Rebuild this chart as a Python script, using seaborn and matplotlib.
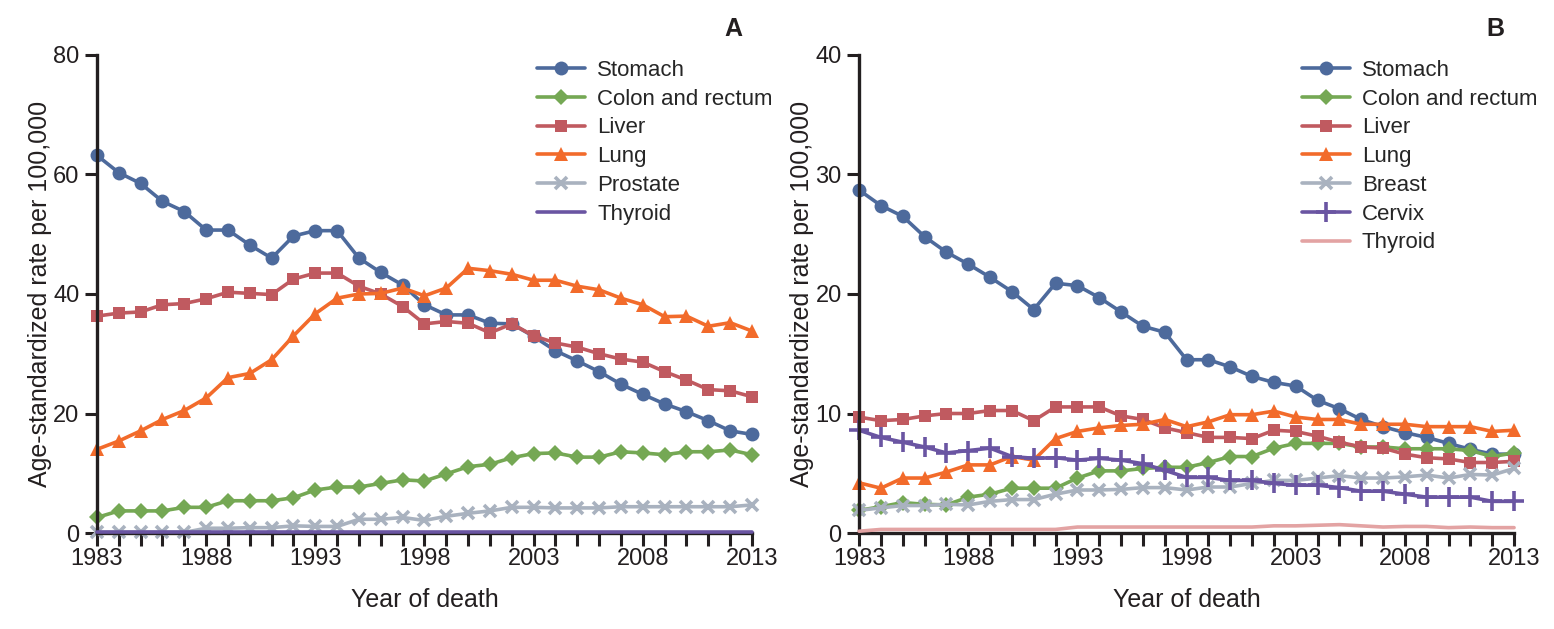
import pandas as pd
import matplotlib.pyplot as plt
import seaborn as sns

years = list(range(1983, 2014))

# Panel A (men)
stomach_a = [63.2, 60.3, 58.5, 55.5, 53.8, 50.7, 50.7, 48.2, 46.0, 49.7, 50.6, 50.6, 46.0, 43.6, 41.5,
             38.2, 36.5, 36.5, 35.1, 35.0, 32.9, 30.5, 28.8, 27.0, 24.9, 23.2, 21.6, 20.3, 18.8, 17.1, 16.5]
colon_a = [2.6, 3.7, 3.7, 3.7, 4.3, 4.3, 5.4, 5.4, 5.4, 5.9, 7.2, 7.7, 7.7, 8.3, 8.9,
           8.7, 9.9, 11.1, 11.5, 12.6, 13.3, 13.4, 12.7, 12.7, 13.6, 13.4, 13.1, 13.6, 13.6, 13.9, 13.1]
liver_a = [36.3, 36.8, 37.0, 38.2, 38.4, 39.2, 40.3, 40.1, 39.9, 42.5, 43.5, 43.5, 41.3, 40.0, 37.9,
           35.0, 35.4, 35.1, 33.5, 35.0, 33.0, 31.8, 31.1, 30.0, 29.1, 28.6, 27.0, 25.6, 24.0, 23.8, 22.8]
lung_a = [14.0, 15.4, 17.1, 19.0, 20.5, 22.6, 26.0, 26.7, 29.0, 33.0, 36.7, 39.3, 40.0, 40.1, 41.0,
          39.7, 41.0, 44.3, 43.9, 43.3, 42.3, 42.3, 41.3, 40.7, 39.3, 38.2, 36.2, 36.3, 34.6, 35.2, 33.8]
prostate_a = [0.1, 0.1, 0.1, 0.1, 0.1, 0.8, 0.8, 0.9, 0.9, 1.2, 1.1, 1.1, 2.3, 2.3, 2.6,
              2.1, 2.8, 3.3, 3.7, 4.3, 4.3, 4.2, 4.2, 4.2, 4.4, 4.4, 4.4, 4.4, 4.4, 4.4, 4.7]
thyroid_a = [0.1, 0.1, 0.1, 0.1, 0.1, 0.1, 0.1, 0.1, 0.1, 0.1, 0.1, 0.1, 0.1, 0.1, 0.1,
             0.1, 0.1, 0.1, 0.1, 0.1, 0.1, 0.1, 0.1, 0.1, 0.1, 0.1, 0.1, 0.1, 0.1, 0.1, 0.1]

# Panel B (women)
stomach_b = [28.7, 27.4, 26.5, 24.8, 23.5, 22.5, 21.4, 20.2, 18.7, 20.9, 20.7, 19.7, 18.5, 17.3, 16.8,
             14.5, 14.5, 13.9, 13.1, 12.6, 12.3, 11.1, 10.4, 9.5, 8.9, 8.4, 8.0, 7.5, 7.0, 6.6, 6.6]
colon_b = [1.9, 2.2, 2.55, 2.4, 2.35, 3.0, 3.25, 3.75, 3.75, 3.75, 4.6, 5.2, 5.2, 5.4, 5.5,
           5.5, 5.9, 6.4, 6.4, 7.1, 7.5, 7.5, 7.5, 7.2, 7.2, 7.05, 7.05, 7.05, 6.9, 6.4, 6.7]
liver_b = [9.7, 9.4, 9.5, 9.8, 10.0, 10.0, 10.25, 10.25, 9.4, 10.55, 10.55, 10.55, 9.8, 9.5, 8.8,
           8.4, 8.0, 8.0, 7.9, 8.6, 8.5, 8.1, 7.6, 7.2, 7.1, 6.6, 6.3, 6.2, 5.9, 5.9, 6.0]
lung_b = [4.2, 3.75, 4.6, 4.6, 5.1, 5.7, 5.7, 6.4, 6.1, 7.9, 8.5, 8.8, 9.0, 9.1, 9.5,
          8.9, 9.3, 9.9, 9.9, 10.2, 9.7, 9.5, 9.5, 9.1, 9.1, 9.1, 8.9, 8.9, 8.9, 8.5, 8.6]
breast_b = [1.9, 2.1, 2.3, 2.3, 2.4, 2.35, 2.65, 2.8, 2.8, 3.25, 3.6, 3.6, 3.65, 3.8, 3.8,
            3.6, 3.85, 3.85, 4.15, 4.4, 4.4, 4.6, 4.8, 4.6, 4.6, 4.7, 4.85, 4.6, 4.9, 4.85, 5.4]
cervix_b = [8.6, 8.0, 7.6, 7.2, 6.7, 6.9, 7.1, 6.4, 6.25, 6.3, 6.1, 6.25, 6.1, 5.8, 5.25,
            4.65, 4.65, 4.4, 4.4, 4.15, 4.0, 4.0, 3.8, 3.5, 3.5, 3.25, 3.0, 3.0, 3.0, 2.65, 2.65]
thyroid_b = [0.15, 0.3, 0.3, 0.3, 0.3, 0.3, 0.3, 0.3, 0.3, 0.3, 0.5, 0.5, 0.5, 0.5, 0.5,
             0.5, 0.5, 0.5, 0.5, 0.6, 0.6, 0.65, 0.7, 0.6, 0.5, 0.55, 0.55, 0.45, 0.5, 0.45, 0.45]

BLUE = "#4d6a9c"
GREEN = "#75a854"
RED = "#c05a60"
ORANGE = "#f26b2b"
GRAY = "#a9b2bf"
PURPLE = "#6a55a2"
PINK = "#e3a3a3"
INK = "#231f20"

# name, values, color, marker, marker size
series_a = [
    ("Stomach", stomach_a, BLUE, "o", 10),
    ("Colon and rectum", colon_a, GREEN, "D", 8),
    ("Liver", liver_a, RED, "s", 8.5),
    ("Lung", lung_a, ORANGE, "^", 10),
    ("Prostate", prostate_a, GRAY, "x", 8),
    ("Thyroid", thyroid_a, PURPLE, None, 0),
]
series_b = [
    ("Stomach", stomach_b, BLUE, "o", 10),
    ("Colon and rectum", colon_b, GREEN, "D", 8),
    ("Liver", liver_b, RED, "s", 8.5),
    ("Lung", lung_b, ORANGE, "^", 10),
    ("Breast", breast_b, GRAY, "x", 8),
    ("Cervix", cervix_b, PURPLE, "+", 14),
    ("Thyroid", thyroid_b, PINK, None, 0),
]

sns.set_style("ticks")
plt.rcParams["font.family"] = ["Liberation Sans", "DejaVu Sans"]

fig = plt.figure(figsize=(15.54, 6.29), dpi=100)
ax_a = fig.add_axes([0.0624, 0.1526, 0.4215, 0.76])
ax_b = fig.add_axes([0.5528, 0.1526, 0.4215, 0.76])


def draw_panel(ax, series, ymax, ystep, letter, legend_x):
    for name, vals, color, marker, ms in series:
        df = pd.DataFrame({"Year": years, "Rate": vals})
        kw = dict(color=color, linewidth=2.6, label=name, clip_on=False)
        if marker is None:
            kw.update(zorder=3)
        elif marker in ("x", "+"):
            kw.update(marker=marker, markersize=ms, markeredgewidth=2.6, markeredgecolor=color)
        else:
            kw.update(marker=marker, markersize=ms, markeredgewidth=0)
        sns.lineplot(data=df, x="Year", y="Rate", ax=ax, **kw)

    ax.set_xlim(1983, 2013)
    ax.set_ylim(0, ymax)
    ax.set_xticks(range(1983, 2014, 5))
    ax.set_xticks(years, minor=True)
    ax.set_yticks(range(0, ymax + 1, ystep))
    ax.tick_params(axis="both", which="both", direction="out", length=9, width=2.2,
                   labelsize=17, color=INK, labelcolor=INK)
    ax.tick_params(axis="x", pad=2)
    for side in ("top", "right"):
        ax.spines[side].set_visible(False)
    for side in ("left", "bottom"):
        ax.spines[side].set_linewidth(2.4)
        ax.spines[side].set_color(INK)
    ax.set_xlabel("Year of death", fontsize=18, color=INK, labelpad=13)
    ax.set_ylabel("Age-standardized rate per 100,000", fontsize=18, color=INK, labelpad=1)
    ax.text(0.985, 1.055, letter, transform=ax.transAxes, fontsize=18, fontweight="bold",
            ha="right", va="center", color=INK)
    ax.legend(loc="upper left", bbox_to_anchor=(legend_x, 0.99), frameon=False, fontsize=16,
              handlelength=2.15, handletextpad=0.55, labelspacing=0.35, borderaxespad=0,
              borderpad=0)


draw_panel(ax_a, series_a, 80, 20, "A", 0.672)
draw_panel(ax_b, series_b, 40, 10, "B", 0.676)

fig.savefig("out.png", dpi=100)
